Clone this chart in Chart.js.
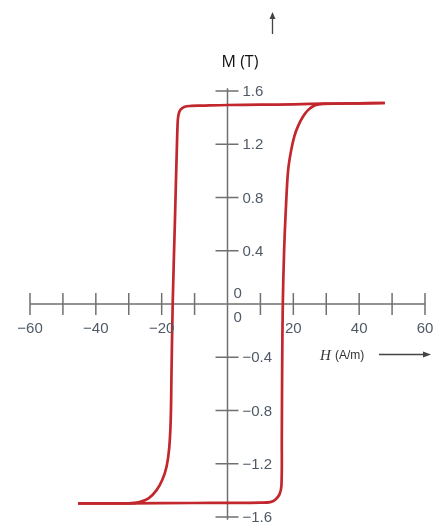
<!DOCTYPE html>
<html>
<head>
<meta charset="utf-8">
<script src="https://cdn.jsdelivr.net/npm/chart.js@4"></script>
<style>
  html, body { margin: 0; padding: 0; background: #fff; }
  canvas { display: block; }
</style>
</head>
<body>
<canvas id="myChart" width="446" height="523"></canvas>
<script>
// descending branch (from positive saturation back to negative)
const hDown = [47.8, 30, 20, 10, 0, -8, -11, -13, -14.2, -14.8, -15.1, -15.4, -16.0, -16.65, -17.0, -17.25, -17.7, -18.5, -19.8, -21.6, -24.0, -27.0, -30, -45.4];
const mDown = [1.51, 1.505, 1.5, 1.497, 1.495, 1.49, 1.488, 1.482, 1.462, 1.43, 1.38, 1.16, 0.6, 0.0, -0.5, -0.87, -1.08, -1.22, -1.32, -1.4, -1.46, -1.49, -1.497, -1.497];

// ascending branch
const hUp = [-45.4, -30, -10, 0, 10, 13.0, 14.5, 15.8, 16.4, 16.5, 16.6, 16.8, 17.2, 17.7, 18.4, 19.3, 20.3, 21.5, 23.0, 24.6, 26.6, 29, 40, 47.8];
const mUp = [-1.497, -1.497, -1.495, -1.494, -1.492, -1.488, -1.47, -1.43, -1.36, -1.0, -0.5, 0.0, 0.4, 0.7, 1.0, 1.15, 1.26, 1.34, 1.41, 1.46, 1.493, 1.503, 1.507, 1.51];

const xTicks = [-60, -50, -40, -30, -20, -10, 10, 20, 30, 40, 50, 60];
const xLabels = [-60, -40, -20, 20, 40, 60];
const yTicks = [-1.6, -1.2, -0.8, -0.4, 0.4, 0.8, 1.2, 1.6];

const red = "#c1272d";
const axisGray = "#707070";
const labelColor = "#505a66";

const toPoints = (xs, ys) => xs.map((x, i) => ({ x: x, y: ys[i] }));
const minus = (v) => (v < 0 ? "\u2212" + Math.abs(v) : String(v));

const axesPlugin = {
  id: "centerAxes",
  beforeDatasetsDraw(chart) {
    const { ctx, scales } = chart;
    const x = scales.x, y = scales.y;
    const x0 = x.getPixelForValue(0);
    const y0 = y.getPixelForValue(0);
    ctx.save();
    ctx.strokeStyle = axisGray;
    ctx.lineWidth = 1.5;
    ctx.beginPath();
    ctx.moveTo(x.getPixelForValue(-60), y0);
    ctx.lineTo(x.getPixelForValue(60), y0);
    ctx.moveTo(x0, y.getPixelForValue(1.62));
    ctx.lineTo(x0, y.getPixelForValue(-1.62));
    xTicks.forEach((t) => {
      const px = x.getPixelForValue(t);
      ctx.moveTo(px, y0 - 11);
      ctx.lineTo(px, y0 + 11);
    });
    yTicks.forEach((t) => {
      const py = y.getPixelForValue(t);
      ctx.moveTo(x0 - 12, py);
      ctx.lineTo(x0 + 11, py);
    });
    ctx.stroke();
    ctx.restore();
  },
  afterDraw(chart) {
    const { ctx, scales } = chart;
    const x = scales.x, y = scales.y;
    const x0 = x.getPixelForValue(0);
    const y0 = y.getPixelForValue(0);
    ctx.save();
    ctx.fillStyle = labelColor;
    ctx.font = "15px 'Liberation Sans', Arial, sans-serif";
    ctx.textAlign = "center";
    ctx.textBaseline = "alphabetic";
    xLabels.forEach((t) => {
      ctx.fillText(minus(t), x.getPixelForValue(t), y0 + 29);
    });
    ctx.textAlign = "left";
    ctx.fillText("0", x0 + 6, y0 + 18);
    ctx.fillText("0", x0 + 6, y0 - 6);
    ctx.textBaseline = "middle";
    yTicks.forEach((t) => {
      ctx.fillText(minus(t), x0 + 15, y.getPixelForValue(t) + 1);
    });

    // axis titles
    ctx.fillStyle = "#111";
    ctx.textAlign = "center";
    ctx.textBaseline = "alphabetic";
    ctx.font = "16px 'Open Sans', sans-serif";
    ctx.fillText("M (T)", 240, 67);

    ctx.textAlign = "left";
    ctx.fillStyle = "#333";
    ctx.font = "italic 15px 'Liberation Serif', serif";
    ctx.fillText("H", 320, 360);
    ctx.font = "12px 'Liberation Sans', Arial, sans-serif";
    ctx.fillText("(A/m)", 335, 359);

    // arrows
    ctx.strokeStyle = "#444";
    ctx.fillStyle = "#444";
    ctx.lineWidth = 1.3;
    ctx.beginPath();
    ctx.moveTo(272.5, 34);
    ctx.lineTo(272.5, 16);
    ctx.moveTo(379, 354.5);
    ctx.lineTo(426, 354.5);
    ctx.stroke();
    ctx.beginPath();
    ctx.moveTo(272.5, 12);
    ctx.lineTo(269.5, 19);
    ctx.lineTo(275.5, 19);
    ctx.closePath();
    ctx.fill();
    ctx.beginPath();
    ctx.moveTo(431, 354.5);
    ctx.lineTo(423, 351.5);
    ctx.lineTo(423, 357.5);
    ctx.closePath();
    ctx.fill();
    ctx.restore();
  },
};

const data = {
  datasets: [
    {
      label: "down",
      data: toPoints(hDown, mDown),
      borderColor: red,
      borderWidth: 2.7,
      showLine: true,
      pointRadius: 0,
      tension: 0.35,
    },
    {
      label: "up",
      data: toPoints(hUp, mUp),
      borderColor: red,
      borderWidth: 2.7,
      showLine: true,
      pointRadius: 0,
      tension: 0.35,
    },
  ],
};

const config = {
  type: "scatter",
  data: data,
  options: {
    responsive: false,
    animation: false,
    layout: {
      padding: { left: 30, right: 21, top: 91, bottom: 6 },
    },
    scales: {
      x: { type: "linear", min: -60, max: 60, display: false },
      y: { type: "linear", min: -1.6, max: 1.6, display: false },
    },
    plugins: {
      legend: { display: false },
      tooltip: { enabled: false },
    },
  },
  plugins: [axesPlugin],
};

const myChart = new Chart(document.getElementById("myChart"), config);
</script>
</body>
</html>
